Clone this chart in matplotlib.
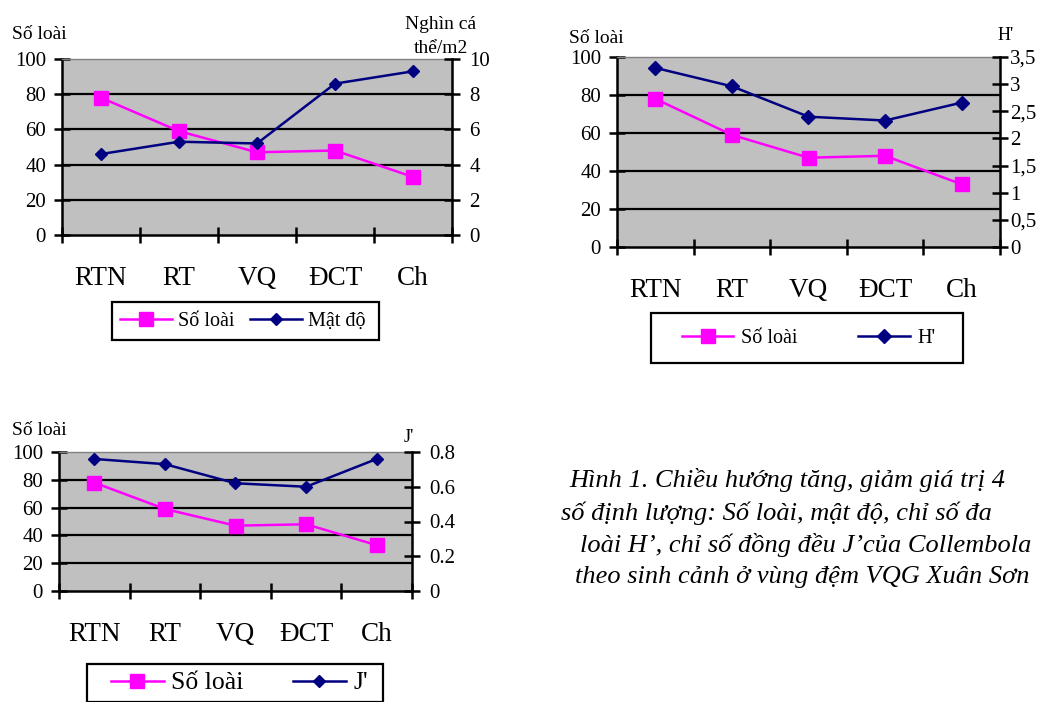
import matplotlib
matplotlib.use('Agg')
import matplotlib.pyplot as plt
import numpy as np
from matplotlib.lines import Line2D
from matplotlib.patches import Rectangle

plt.rcParams['font.family'] = ['Liberation Serif', 'DejaVu Serif']

# ---------------- data ----------------
categories = ['RTN', 'RT', 'VQ', 'ĐCT', 'Ch']
so_loai = [78, 59, 47, 48, 33]          # Số loài
mat_do = [4.6, 5.3, 5.2, 8.6, 9.3]      # Mật độ (nghìn cá thể/m2)
h_index = [3.30, 2.96, 2.40, 2.33, 2.66]  # H'
j_index = [0.76, 0.73, 0.62, 0.60, 0.76]  # J'

left_ticks = [0, 20, 40, 60, 80, 100]
right_ticks_1 = [0, 2, 4, 6, 8, 10]
right_labels_1 = ['0', '2', '4', '6', '8', '10']
right_ticks_2 = [0, 0.5, 1, 1.5, 2, 2.5, 3, 3.5]
right_labels_2 = ['0', '0,5', '1', '1,5', '2', '2,5', '3', '3,5']
right_ticks_3 = [0, 0.2, 0.4, 0.6, 0.8]
right_labels_3 = ['0', '0.2', '0.4', '0.6', '0.8']

caption_lines = [
    'Hình 1. Chiều hướng tăng, giảm giá trị 4',
    'số định lượng: Số loài, mật độ, chỉ số đa',
    'loài H’, chỉ số đồng đều J’của Collembola',
    'theo sinh cảnh ở vùng đệm VQG Xuân Sơn',
]

# ---------------- style ----------------
W, H = 1043, 702
MAG = '#FF00FF'
NAVY = '#000080'
GRAY = '#C0C0C0'
TICK_FS = 15
CAT_FS = 19.5

fig = plt.figure(figsize=(W / 100, H / 100), dpi=100)


def frac_rect(x0, y0, x1, y1):
    return [x0 / W, 1 - y1 / H, (x1 - x0) / W, (y1 - y0) / H]


def chart(px, right_vals, rticks, rlabels, sq_ms, di_ms, rpad=7):
    ax = fig.add_axes(frac_rect(*px))
    ax.set_facecolor(GRAY)
    n = len(categories)
    x = np.arange(n)
    ax.set_xlim(-0.5, n - 0.5)
    ax.set_ylim(left_ticks[0], left_ticks[-1])
    ax.hlines(left_ticks[1:-1], -0.5, n - 0.5, colors='black', lw=1.6, zorder=1)
    ax.plot(x, so_loai, color=MAG, marker='s', ms=sq_ms, lw=1.8, zorder=3,
            clip_on=False)
    ax.set_yticks(left_ticks)
    ax.tick_params(axis='y', direction='inout', length=11, width=1.8,
                   labelsize=TICK_FS, pad=6)
    ax.set_xticks(x)
    ax.set_xticklabels(categories)
    ax.set_xticks(np.arange(n + 1) - 0.5, minor=True)
    ax.tick_params(axis='x', which='major', length=0, pad=22, labelsize=CAT_FS)
    ax.tick_params(axis='x', which='minor', direction='inout', length=11,
                   width=1.8)
    for s in ['left', 'bottom']:
        ax.spines[s].set_linewidth(1.8)
        ax.spines[s].set_color('black')
    ax.spines['top'].set_color('#808080')
    ax.spines['top'].set_linewidth(1.0)
    ax.spines['right'].set_visible(False)

    ax2 = ax.twinx()
    ax2.set_ylim(rticks[0], rticks[-1])
    ax2.plot(x, right_vals, color=NAVY, marker='D', ms=di_ms, lw=1.8,
             zorder=3, clip_on=False)
    ax2.set_yticks(rticks)
    ax2.set_yticklabels(rlabels)
    ax2.tick_params(axis='y', direction='inout', length=11, width=1.8,
                    labelsize=TICK_FS, pad=rpad)
    for s in ['left', 'top', 'bottom']:
        ax2.spines[s].set_visible(False)
    ax2.spines['right'].set_linewidth(1.8)
    ax2.spines['right'].set_color('black')
    return ax, ax2


def legend(box, inner, labels, sq_ms, di_ms, fs, hl, htp):
    x0, y0, x1, y1 = box
    fig.add_artist(Rectangle((x0 / W, 1 - y1 / H), (x1 - x0) / W, (y1 - y0) / H,
                             transform=fig.transFigure, fill=False,
                             ec='black', lw=1.6))
    handles = [Line2D([], [], color=MAG, marker='s', ms=sq_ms, lw=1.8),
               Line2D([], [], color=NAVY, marker='D', ms=di_ms, lw=1.8)]
    ix0, ix1 = inner
    fig.legend(handles, labels, loc='center',
               bbox_to_anchor=(ix0 / W, 1 - y1 / H, (ix1 - ix0) / W, (y1 - y0) / H),
               bbox_transform=fig.transFigure, mode='expand', ncol=2,
               frameon=False, borderpad=0, borderaxespad=0,
               handlelength=hl, handletextpad=htp, fontsize=fs)


def ftext(x, y, s, **kw):
    fig.text(x / W, 1 - y / H, s, **kw)


# ---- chart 1: Số loài & Mật độ ----
chart((62, 59, 452, 235), mat_do, right_ticks_1, right_labels_1, 10.5, 6.5)
ftext(12, 39, 'Số loài', fontsize=14, va='baseline')
ftext(441, 29, 'Nghìn cá', fontsize=14, va='baseline', ha='center')
ftext(441, 53, 'thể/m2', fontsize=14, va='baseline', ha='center')
legend((112, 302, 379, 340), (120, 366), ['Số loài', 'Mật độ'], 10.5, 6.5,
       14.5, 2.6, 0.3)

# ---- chart 2: Số loài & H' ----
chart((617, 57, 1000, 247), h_index, right_ticks_2, right_labels_2, 10.5, 7,
      rpad=2)
ftext(569, 43, 'Số loài', fontsize=14, va='baseline')
ftext(998, 40, "H'", fontsize=13, va='baseline')
legend((651, 313, 963, 363), (682, 936), ['Số loài', "H'"], 10.5, 7,
       14.5, 2.55, 0.4)

# ---- chart 3: Số loài & J' ----
chart((59, 452, 412, 591), j_index, right_ticks_3, right_labels_3, 9.5, 6.5)
ftext(12, 435, 'Số loài', fontsize=14, va='baseline')
ftext(404, 442, "J'", fontsize=13, va='baseline')
legend((87, 664, 383, 702), (111, 368), ['Số loài', "J'"], 9.5, 6.5,
       18.5, 2.05, 0.3)

# ---- caption ----
cap_x = [569, 561, 580, 575]
cap_y = [487, 520, 552, 583]
for cx, cy, line in zip(cap_x, cap_y, caption_lines):
    ftext(cx, cy, line, fontsize=19, style='italic', va='baseline')

fig.savefig('out.png', dpi=100)
